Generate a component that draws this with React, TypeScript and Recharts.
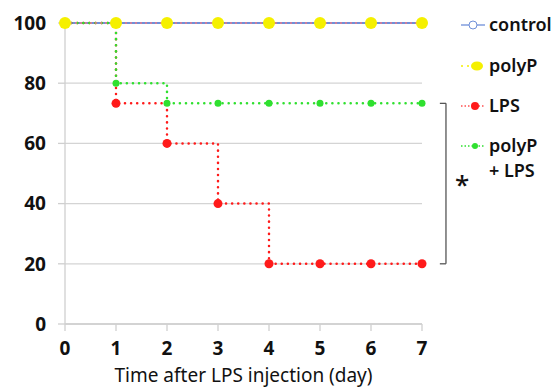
import { LineChart, Line, XAxis, YAxis, CartesianGrid, ReferenceLine } from 'recharts'

const days = [0, 1, 2, 3, 4, 5, 6, 7]
const control = [100, 100, 100, 100, 100, 100, 100, 100]
const polyP = [100, 100, 100, 100, 100, 100, 100, 100]
const lps = [100, 73.3, 60, 40, 20, 20, 20, 20]
const polyPLps = [100, 80, 73.3, 73.3, 73.3, 73.3, 73.3, 73.3]
const yTicks = [0, 20, 40, 60, 80, 100]

const data = days.map((d, i) => ({
  day: d,
  control: control[i],
  polyP: polyP[i],
  lps: lps[i],
  polyPLps: polyPLps[i],
}))

const font = '"Noto Sans", "Open Sans", sans-serif'

function LegendRow({ top, color, dash, dot, label }: any) {
  return (
    <div style={{ position: 'absolute', left: 460, top, display: 'flex', alignItems: 'flex-start' }}>
      <svg width={26} height={20} style={{ marginTop: 3 }}>
        <line x1={1} y1={10} x2={25} y2={10} stroke={color} strokeWidth={1.3} strokeDasharray={dash} />
        {dot}
      </svg>
      <div style={{ fontSize: 18, lineHeight: '25px', color: '#111', marginLeft: 3, fontWeight: 600 }}>{label}</div>
    </div>
  )
}

export default function App() {
  return (
    <div style={{ position: 'absolute', left: 0, top: 0, width: 557, height: 387, background: '#fff', fontFamily: font }}>
      <LineChart width={557} height={387} data={data} margin={{ top: 23, right: 135, left: 0, bottom: 0 }}>
        <CartesianGrid horizontal vertical={false} stroke="#d4d4d4" strokeWidth={1.3} />
        <XAxis
          dataKey="day"
          type="number"
          domain={[0, 7]}
          ticks={days}
          height={63}
          tickSize={7}
          tickMargin={11}
          axisLine={{ stroke: '#cfcfcf', strokeWidth: 1.3 }}
          tickLine={{ stroke: '#cfcfcf', strokeWidth: 1.3 }}
          tick={{ fontSize: 19, fontWeight: 700, fill: '#111', fontFamily: font }}
          label={{ value: 'Time after LPS injection (day)', position: 'insideBottom', offset: 5, fontSize: 19, fill: '#111', fontFamily: font }}
        />
        <YAxis
          type="number"
          domain={[0, 100]}
          ticks={yTicks}
          width={65}
          tickSize={7}
          tickMargin={12}
          axisLine={{ stroke: '#cfcfcf', strokeWidth: 1.3 }}
          tickLine={{ stroke: '#cfcfcf', strokeWidth: 1.3 }}
          tick={{ fontSize: 19, fontWeight: 700, fill: '#111', fontFamily: font }}
        />
        <ReferenceLine segment={[{ x: 7.35, y: 73.3 }, { x: 7.47, y: 73.3 }]} stroke="#555" strokeWidth={1.3} ifOverflow="visible" />
        <ReferenceLine segment={[{ x: 7.47, y: 73.3 }, { x: 7.47, y: 20 }]} stroke="#555" strokeWidth={1.3} ifOverflow="visible" />
        <ReferenceLine segment={[{ x: 7.35, y: 20 }, { x: 7.47, y: 20 }]} stroke="#555" strokeWidth={1.3} ifOverflow="visible" />
        <Line
          dataKey="control"
          type="stepAfter"
          stroke="#6f8fd8"
          strokeWidth={2}
          dot={{ r: 4, stroke: '#6f8fd8', fill: '#fff', strokeWidth: 1 }}
          isAnimationActive={false}
        />
        <Line
          dataKey="lps"
          type="stepAfter"
          stroke="#ff1a1a"
          strokeWidth={2.5}
          strokeDasharray="0.1 6"
          strokeLinecap="round"
          dot={{ r: 4.5, stroke: 'none', fill: '#ff1a1a' }}
          isAnimationActive={false}
        />
        <Line
          dataKey="polyPLps"
          type="stepAfter"
          stroke="#2fe02f"
          strokeWidth={2.5}
          strokeDasharray="0.1 6"
          strokeLinecap="round"
          dot={{ r: 3.5, stroke: 'none', fill: '#2fe02f' }}
          isAnimationActive={false}
        />
        <Line
          dataKey="polyP"
          type="stepAfter"
          stroke="#e87a8a"
          strokeWidth={1.5}
          strokeDasharray="2 3"
          dot={{ r: 6, stroke: 'none', fill: '#f5f000' }}
          isAnimationActive={false}
        />
      </LineChart>
      <LegendRow top={12} color="#6f8fd8" label="control"
        dot={<circle cx={13} cy={10} r={4} fill="#fff" stroke="#6f8fd8" strokeWidth={1} />} />
      <LegendRow top={53} color="#f5f000" dash="2 4" label="polyP"
        dot={<ellipse cx={17} cy={10} rx={6} ry={4.5} fill="#f5f000" />} />
      <LegendRow top={93} color="#ff5050" dash="1.5 2" label="LPS"
        dot={<circle cx={15} cy={10} r={4} fill="#ff1a1a" />} />
      <LegendRow top={133} color="#2fe02f" dash="1.5 2" label={<span>polyP<br />+ LPS</span>}
        dot={<circle cx={15} cy={10} r={3} fill="#2fe02f" />} />
      <div style={{ position: 'absolute', left: 455, top: 166, fontSize: 26, fontWeight: 500, color: '#111' }}>*</div>
    </div>
  )
}
